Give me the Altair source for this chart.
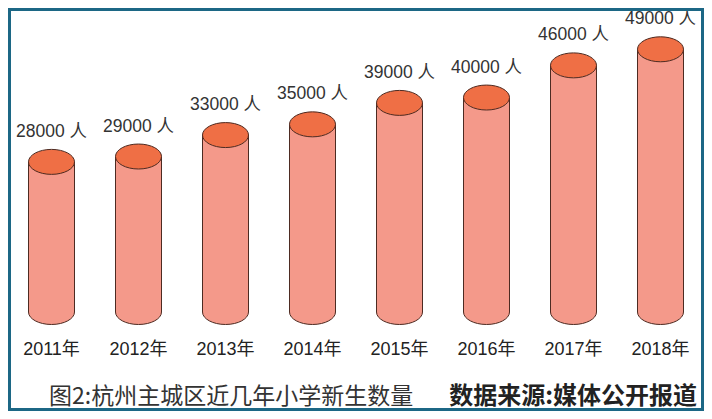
import altair as alt
import pandas as pd

# 杭州主城区近几年小学新生数量
years = ["2011年", "2012年", "2013年", "2014年", "2015年", "2016年", "2017年", "2018年"]
students = [28000, 29000, 33000, 35000, 39000, 40000, 46000, 49000]
caption_left = "图2:杭州主城区近几年小学新生数量"
caption_right = "数据来源:媒体公开报道"

BODY = "#F4998A"
TOP = "#EF6F45"
EDGE = "#4d2b22"
FRAME = "#1c6785"
CYL_W = 46
# ellipse drawn in unit box, ry/rx = 25/46
ELLIPSE = "M-1,0A1,0.543,0,1,0,1,0A1,0.543,0,1,0,-1,0Z"

W, H = 696, 304

df = pd.DataFrame({"year": years, "value": students})
df["label"] = [f"{v} 人" for v in students]

x = alt.X("year:N", sort=years, title=None,
          scale=alt.Scale(paddingInner=0, paddingOuter=0),
          axis=alt.Axis(labelAngle=0, ticks=False, tickSize=0, domain=False,
                        labelPadding=37, labelBaseline="middle",
                        labelFont="Liberation Sans, Noto Sans CJK SC",
                        labelFontSize=18, labelColor="#222222"))
yscale = alt.Scale(domain=[0, 56700], nice=False)

base = alt.Chart(df)

bottom = base.mark_point(shape=ELLIPSE, size=CYL_W * CYL_W, filled=True,
                         fill=BODY, stroke=EDGE, strokeWidth=1, opacity=1).encode(
    x=x, y=alt.Y(datum=0, scale=yscale, axis=None))

body = base.mark_bar(size=CYL_W, color=BODY).encode(
    x=x, y=alt.Y("value:Q", scale=yscale, axis=None))

left_edge = base.mark_rule(xOffset=-CYL_W / 2, color=EDGE, strokeWidth=1).encode(
    x=x, y=alt.Y("value:Q", scale=yscale, axis=None), y2=alt.Y2(datum=0))
right_edge = base.mark_rule(xOffset=CYL_W / 2, color=EDGE, strokeWidth=1).encode(
    x=x, y=alt.Y("value:Q", scale=yscale, axis=None), y2=alt.Y2(datum=0))

top = base.mark_point(shape=ELLIPSE, size=CYL_W * CYL_W, filled=True,
                      fill=TOP, stroke=EDGE, strokeWidth=1, opacity=1).encode(
    x=x, y=alt.Y("value:Q", scale=yscale, axis=None))

labels = base.mark_text(dy=-25, baseline="alphabetic", fontSize=17.5,
                        font="Liberation Sans, Noto Sans CJK SC", color="#333333").encode(
    x=x, y=alt.Y("value:Q", scale=yscale, axis=None), text="label:N")

one = alt.Chart(pd.DataFrame({"left": [caption_left], "right": [caption_right]}))

frame = one.mark_rect(filled=False, stroke=FRAME, strokeWidth=3).encode(
    x=alt.value(1.5), x2=alt.value(W - 1.5), y=alt.value(1.5), y2=alt.value(401.5))

cap_left = one.mark_text(align="left", baseline="middle", fontSize=23,
                         font="Noto Sans CJK SC", color="#333333").encode(
    x=alt.value(41), y=alt.value(389), text="left:N")
cap_right = one.mark_text(align="right", baseline="middle", fontSize=24, fontWeight="bold",
                          font="Noto Sans CJK SC", color="#222222").encode(
    x=alt.value(689), y=alt.value(389), text="right:N")

chart = alt.layer(
    bottom, body, left_edge, right_edge, top, labels, frame, cap_left, cap_right
).properties(
    width=W, height=H,
    autosize=alt.AutoSizeParams(type="none"),
    padding={"left": 0, "top": 0, "right": 0, "bottom": 99},
    background="white",
).configure_view(stroke=None)

chart.save("out.html", embed_options={"renderer": "svg", "actions": False})
